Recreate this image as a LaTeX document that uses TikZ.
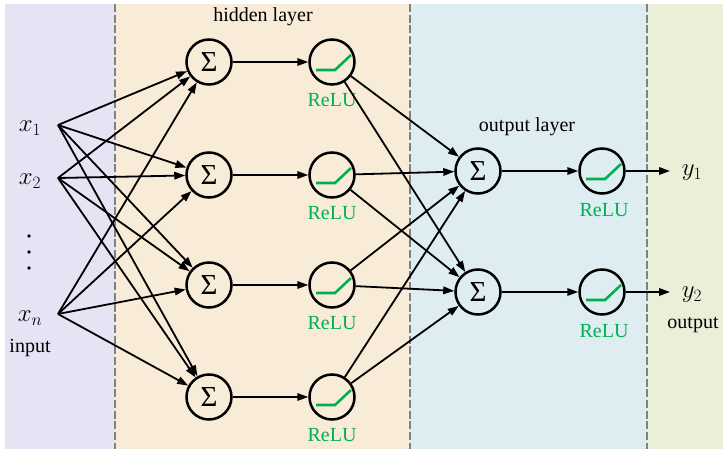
\documentclass[tikz,border=0pt]{standalone}
\usepackage{fontspec}
\setmainfont{Liberation Serif}
\usetikzlibrary{arrows.meta}
\definecolor{bgin}{HTML}{E6E3F5}
\definecolor{bghid}{HTML}{F8EBD8}
\definecolor{bgout}{HTML}{DEEDF1}
\definecolor{bgend}{HTML}{E9F0D7}
\definecolor{sepgray}{HTML}{808080}
\definecolor{relugreen}{RGB}{0,176,80}
\newcommand\reluglyph[1]{\draw[reluline] ([shift={(-16,8)}]#1.center) -- ++(19,0) -- ++(16,-15);}
\begin{document}
\begin{tikzpicture}[x=1pt,y=-1pt,
  font=\fontsize{20}{24}\selectfont,
  neuron/.style={circle,draw=black,line width=2.5pt,minimum size=45pt,inner sep=0pt},
  sumnode/.style={neuron,font=\fontsize{29}{34}\selectfont},
  conn/.style={line width=1.8pt,-{Triangle[length=11pt,width=7.5pt]}},
  reluline/.style={draw=relugreen,line width=2.6pt},
  relulabel/.style={text=relugreen,inner sep=0pt},
  sepline/.style={draw=sepgray,line width=2.2pt,dash pattern=on 8pt off 2.7pt},
  lbl/.style={inner sep=0pt},
  mathlbl/.style={inner sep=0pt,font=\fontsize{26}{30}\selectfont}]
\useasboundingbox (0,0) rectangle (723,449);
% backgrounds
\fill[bgin] (5,4) rectangle (115,449);
\fill[bghid] (115,4) rectangle (410,449);
\fill[bgout] (410,4) rectangle (647,449);
\fill[bgend] (647,4) rectangle (723,449);
\draw[sepline] (115,4) -- (115,449);
\draw[sepline] (410,4) -- (410,449);
\draw[sepline] (647,4) -- (647,449);
% titles
\node[lbl] (thid) at (263,17) {hidden layer};
\node[lbl] (tout) at (527,127) {output layer};
% inputs
\node[mathlbl] (x1) at (30,128) {$x_1$};
\node[mathlbl] (x2) at (30,181) {$x_2$};
\node[mathlbl] (xn) at (30,318) {$x_n$};
\node[lbl] (tin) at (30,348) {input};
\fill (29,236) circle (1.8pt);
\fill (29,252) circle (1.8pt);
\fill (29,268) circle (1.8pt);
\coordinate (f1) at (58,125);
\coordinate (f2) at (58,178);
\coordinate (fn) at (58,314);
% hidden layer
\foreach \i/\y in {1/62,2/175,3/285,4/397}{
  \node[sumnode] (s\i) at (209,\y) {Σ};
  \node[neuron] (r\i) at (332,\y) {};
  \node[relulabel] (rl\i) at (332,\y+38) {ReLU};
}
\foreach \i in {1,2,3,4}{\reluglyph{r\i}}
% output layer
\foreach \i/\y in {1/171,2/292}{
  \node[sumnode] (o\i) at (478,\y) {Σ};
  \node[neuron] (q\i) at (602,\y) {};
  \node[relulabel] (ql\i) at (604,\y+39) {ReLU};
}
\foreach \i in {1,2}{\reluglyph{q\i}}
\node[mathlbl] (y1) at (692,173) {$y_1$};
\node[mathlbl] (y2) at (692,295) {$y_2$};
\node[lbl] (tofin) at (693,325) {output};
\coordinate (e1) at (670,171);
\coordinate (e2) at (670,292);
% connections
\foreach \f in {f1,f2,fn}{
  \foreach \i in {1,2,3,4}{\draw[conn] (\f) -- (s\i);}
}
\foreach \i in {1,2,3,4}{
  \draw[conn] (s\i) -- (r\i);
  \draw[conn] (r\i) -- (o1);
  \draw[conn] (r\i) -- (o2);
}
\foreach \i in {1,2}{
  \draw[conn] (o\i) -- (q\i);
  \draw[conn] (q\i) -- (e\i);
}
\end{tikzpicture}
\end{document}
